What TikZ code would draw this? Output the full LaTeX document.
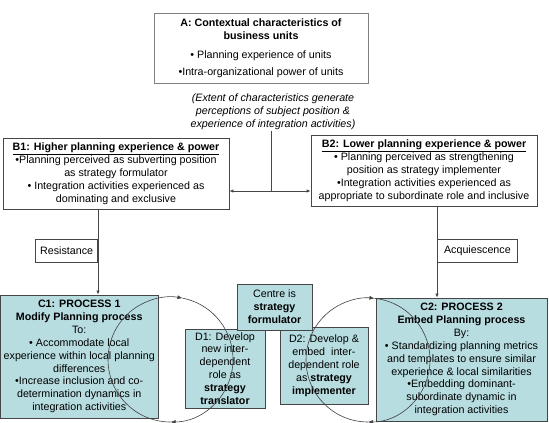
\documentclass[tikz,border=0pt]{standalone}
\usepackage{fontspec}
\setmainfont{Liberation Sans}
\usetikzlibrary{arrows.meta}
\definecolor{procfill}{RGB}{183,221,225}
\definecolor{edge}{RGB}{70,70,70}
\begin{document}
\begin{tikzpicture}[x=1pt,y=1pt,
    font=\fontsize{10.7}{12.9}\selectfont,
    box/.style={draw=edge,line width=0.8pt,align=center,inner sep=1pt,
      execute at begin node={\rule{0pt}{13.5pt}}},
    proc/.style={box,fill=procfill},
    tag/.style={draw=edge,line width=0.8pt,minimum height=23,inner xsep=3pt},
    arr/.style={draw=edge,line width=0.8pt,-{Latex[length=4pt,width=3.5pt]}},
    cyc/.style={draw=black!75,line width=0.6pt,-{Latex[length=5pt,width=4pt]}}]
  \useasboundingbox (0,0) rectangle (549,423);
  % top
  \node[box,draw=gray,minimum width=214,minimum height=70] (A) at (261,375)
    {\textbf{A: Contextual characteristics of}\\ \textbf{business units}\\[6pt]
     • Planning experience of units\\[4pt] •Intra-organizational power of units};
  \node[align=center,inner sep=1pt] (ext) at (273,311)
    {\itshape (Extent of characteristics generate\\ \itshape perceptions of subject position \&\\
     \itshape experience of integration activities)};
  % perceptions
  \node[box,minimum width=226,minimum height=71] (B1) at (116,249.5)
    {\textbf{\underline{B1: Higher planning experience \& power}}\\
     •Planning perceived as subverting position\\ as strategy formulator\\
     • Integration activities experienced as\\ dominating and exclusive};
  \node[box,minimum width=226,minimum height=71] (B2) at (424,252.5)
    {\textbf{\underline{B2: Lower planning experience \& power}}\\
     • Planning perceived as strengthening\\ position as strategy implementer\\
     •Integration activities experienced as\\ appropriate to subordinate role and inclusive};
  \node[tag,minimum width=62,anchor=east] (res) at (98,172.5) {Resistance};
  \node[tag,minimum width=80,anchor=west] (acq) at (437,172.5) {Acquiescence};
  % processes
  \node[proc,minimum width=157.5,minimum height=123] (C1) at (79.25,66.5)
    {\textbf{C1: PROCESS 1}\\ \textbf{Modify Planning process}\\ To:\\
     • Accommodate local\\ experience within local planning\\ differences\\
     •Increase inclusion and co-\\ determination dynamics in\\ integration activities};
  \node[proc,minimum width=171,minimum height=123] (C2) at (461.5,63.5)
    {\textbf{C2: PROCESS 2}\\ \textbf{Embed Planning process}\\ By:\\
     • Standardizing planning metrics\\ and templates to ensure similar\\
     experience \& local similarities\\ •Embedding dominant-\\
     subordinate dynamic in\\ integration activities};
  \node[proc,minimum width=80,minimum height=79] (D1) at (225,54.5)
    {D1: Develop\\ new inter-\\ dependent\\ role as\\ \textbf{strategy}\\ \textbf{translator}};
  \node[proc,minimum width=88,minimum height=77] (D2) at (324,57.5)
    {D2: Develop \&\\ embed\ \ inter-\\ dependent role\\ as \textbf{strategy}\\ \textbf{implementer}};
  \node[proc,minimum width=75,minimum height=46] (cen) at (274.5,116)
    {Centre is\\ \textbf{strategy}\\ \textbf{formulator}};
  % connectors
  \coordinate (split) at (271,232);
  \draw[draw=edge,line width=0.8pt] (ext.south -| split) -- (split);
  \draw[arr] (split) -- (B1.east |- split);
  \draw[arr] (split) -- (B2.west |- split);
  \draw[arr] (res.east |- B1.south) -- (res.east |- C1.north);
  \draw[arr] (acq.west |- B2.south) -- (acq.west |- C2.north);
  % cycles
  \coordinate (cl) at (170.5,63.5);
  \coordinate (cr) at (368,63);
  \draw[cyc] (cl) ++(180:62.5) arc (180:79:62.5);
  \draw[cyc] (cl) ++(79:62.5) arc (79:-90:62.5);
  \draw[cyc,-] (cl) ++(-90:62.5) arc (-90:-180:62.5);
  \draw[cyc] (cr) ++(180:62) arc (180:84:62);
  \draw[cyc] (cr) ++(84:62) arc (84:-90:62);
  \draw[cyc,-] (cr) ++(-90:62) arc (-90:-180:62);
\end{tikzpicture}
\end{document}
